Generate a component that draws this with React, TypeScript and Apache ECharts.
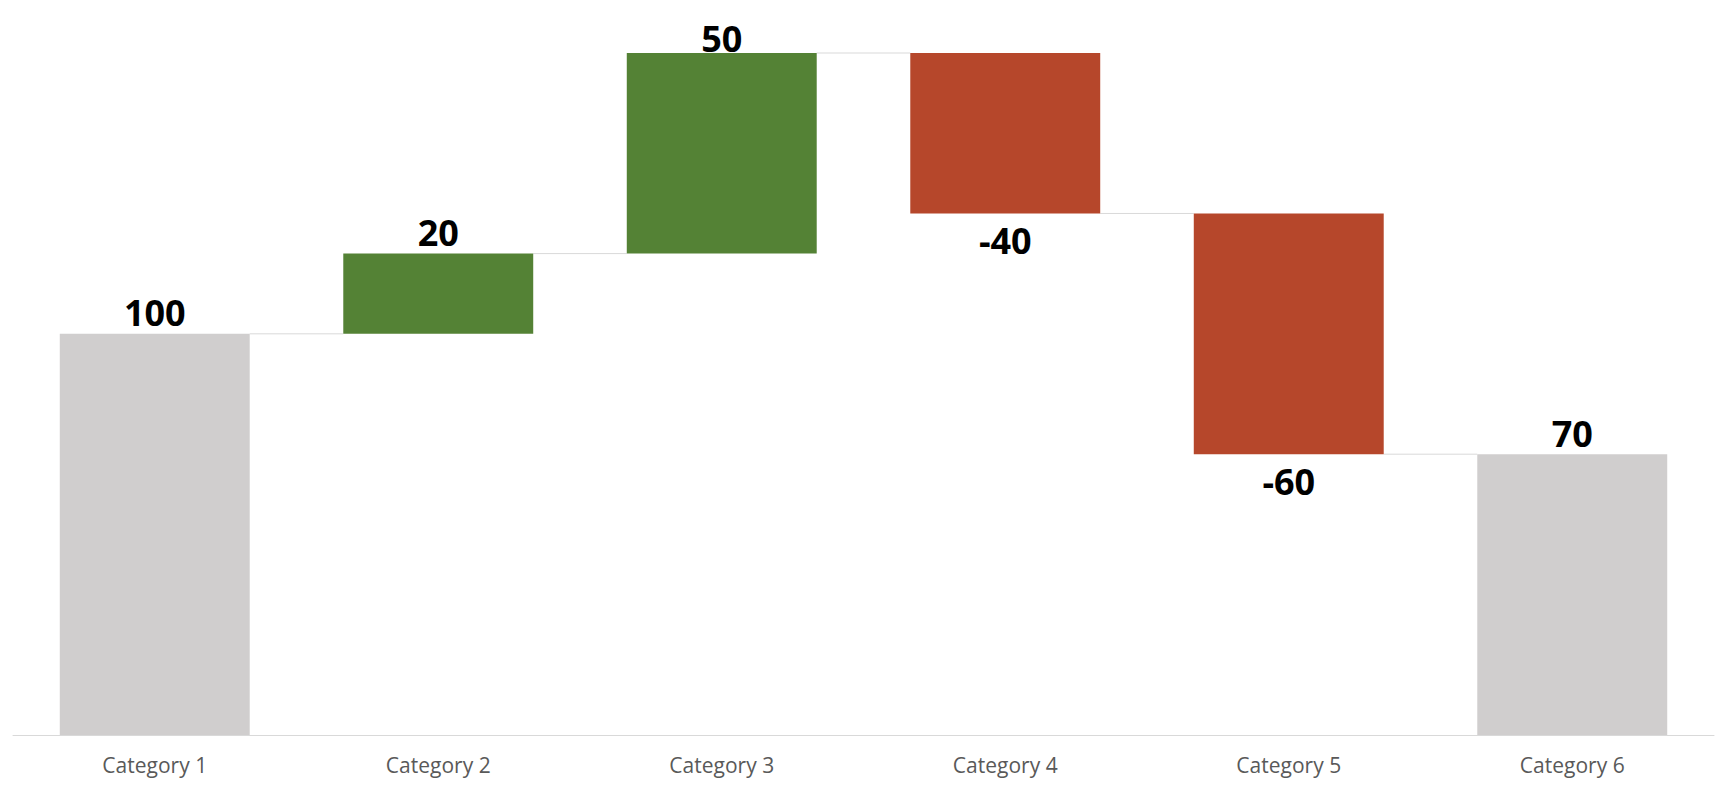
import React, { useEffect, useRef } from "react";
import * as echarts from "echarts";

const categories = ["Category 1", "Category 2", "Category 3", "Category 4", "Category 5", "Category 6"];
const changes = [100, 20, 50, -40, -60, 70];
const isTotal = [true, false, false, false, false, true];

const GRAY = "#D0CECE";
const GREEN = "#548235";
const RED = "#B6472B";

export default function App() {
  const ref = useRef<HTMLDivElement>(null);
  useEffect(() => {
    if (!ref.current) return;
    const chart = echarts.init(ref.current, null, { renderer: "svg" });

    // build waterfall: base (invisible) + visible delta
    const base: number[] = [];
    const heights: number[] = [];
    const levels: number[] = [];
    let running = 0;
    changes.forEach((v, i) => {
      if (isTotal[i]) {
        base.push(0);
        heights.push(v);
        running = v;
      } else if (v >= 0) {
        base.push(running);
        heights.push(v);
        running += v;
      } else {
        base.push(running + v);
        heights.push(-v);
        running += v;
      }
      levels.push(running);
    });

    const visibleData = heights.map((h, i) => {
      const v = changes[i];
      const color = isTotal[i] ? GRAY : v >= 0 ? GREEN : RED;
      const below = !isTotal[i] && v < 0;
      return {
        value: h,
        itemStyle: { color },
        label: {
          position: below ? "bottom" : "top",
          distance: below ? 9 : i === 2 ? -3 : 3,
        },
      };
    });

    const connectorData = levels.slice(0, levels.length - 1).map((lv, i) => [i, lv]);

    chart.setOption({
      animation: false,
      grid: { left: 13, right: 16, top: 53, bottom: 56 },
      xAxis: {
        type: "category",
        data: categories,
        axisLine: { show: true, lineStyle: { color: "#D9D9D9", width: 1 } },
        axisTick: { show: false },
        axisLabel: {
          color: "#595959",
          fontFamily: "Open Sans",
          fontSize: 21,
          margin: 19,
        },
      },
      yAxis: {
        type: "value",
        min: 0,
        max: 170,
        show: false,
        splitLine: { show: false },
      },
      series: [
        {
          type: "bar",
          stack: "wf",
          data: base,
          itemStyle: { color: "transparent" },
          barCategoryGap: "33%",
          silent: true,
        },
        {
          type: "bar",
          stack: "wf",
          data: visibleData,
          barCategoryGap: "33%",
          label: {
            show: true,
            color: "#000000",
            fontFamily: "Open Sans",
            fontWeight: "bold",
            fontSize: 36,
            formatter: (p: any) => String(changes[p.dataIndex]),
          },
        },
        {
          type: "custom",
          data: connectorData,
          encode: { x: 0, y: 1 },
          silent: true,
          z: 1,
          renderItem: (params: any, api: any) => {
            const idx = api.value(0);
            const lv = api.value(1);
            const p1 = api.coord([idx, lv]);
            const p2 = api.coord([idx + 1, lv]);
            const bw = api.size([1, 0])[0];
            const half = bw * 0.335;
            return {
              type: "line",
              shape: { x1: p1[0] + half, y1: p1[1], x2: p2[0] - half, y2: p2[1] },
              style: { stroke: "#D9D9D9", lineWidth: 1 },
            };
          },
        },
      ],
    });
    return () => chart.dispose();
  }, []);

  return (
    <div
      ref={ref}
      style={{ position: "absolute", left: 0, top: 0, width: 1730, height: 791, background: "#ffffff" }}
    />
  );
}
